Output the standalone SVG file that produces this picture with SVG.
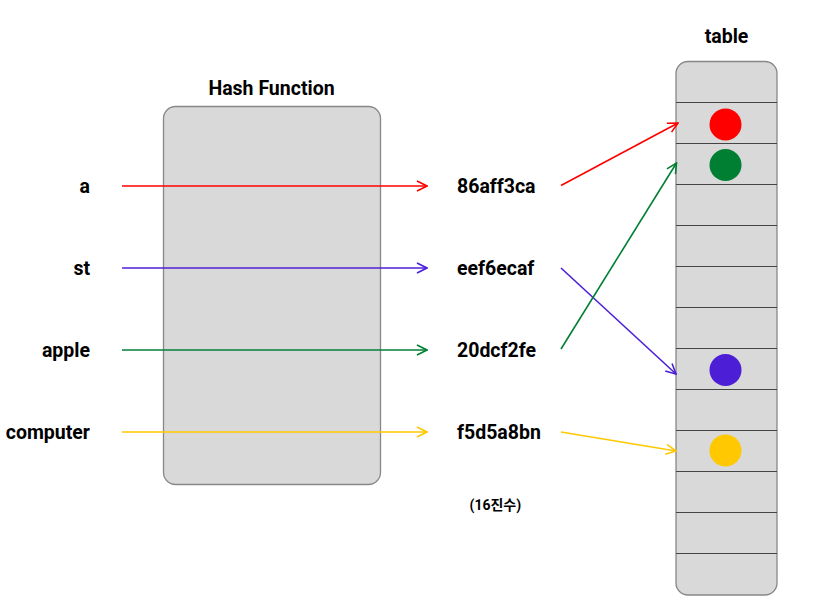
<svg xmlns="http://www.w3.org/2000/svg" width="822" height="612" viewBox="0 0 822 612">
<style>
text{font-family:Roboto,"Noto Sans CJK KR",sans-serif;font-weight:bold;fill:#000}
.lbl{font-size:19.5px}
.key{text-anchor:end}
.box{fill:#d9d9d9;stroke:#888;stroke-width:1.3}
.row{stroke:#444;stroke-width:1}
.c{fill:none;stroke-width:1.6}
</style>
<defs>
<marker id="mr" viewBox="0 0 12 12" refX="11" refY="6" markerWidth="12" markerHeight="12" markerUnits="userSpaceOnUse" orient="auto"><path d="M1,1 L11,6 L1,11" fill="none" stroke="#ff0000" stroke-width="1.6"/></marker>
<marker id="mp" viewBox="0 0 12 12" refX="11" refY="6" markerWidth="12" markerHeight="12" markerUnits="userSpaceOnUse" orient="auto"><path d="M1,1 L11,6 L1,11" fill="none" stroke="#4c1fd6" stroke-width="1.6"/></marker>
<marker id="mg" viewBox="0 0 12 12" refX="11" refY="6" markerWidth="12" markerHeight="12" markerUnits="userSpaceOnUse" orient="auto"><path d="M1,1 L11,6 L1,11" fill="none" stroke="#007f33" stroke-width="1.6"/></marker>
<marker id="my" viewBox="0 0 12 12" refX="11" refY="6" markerWidth="12" markerHeight="12" markerUnits="userSpaceOnUse" orient="auto"><path d="M1,1 L11,6 L1,11" fill="none" stroke="#ffc800" stroke-width="1.6"/></marker>
</defs>
<g id="hash">
<rect class="box" x="163.5" y="106.5" width="217" height="378" rx="12"/>
<text class="lbl" x="271.5" y="95" text-anchor="middle">Hash Function</text>
</g>
<g id="table">
<rect class="box" x="676" y="61.5" width="101" height="533.5" rx="12"/>
<g class="row">
<line x1="676" y1="102.5" x2="777" y2="102.5"/>
<line x1="676" y1="143.5" x2="777" y2="143.5"/>
<line x1="676" y1="184.5" x2="777" y2="184.5"/>
<line x1="676" y1="225.5" x2="777" y2="225.5"/>
<line x1="676" y1="266.5" x2="777" y2="266.5"/>
<line x1="676" y1="307.5" x2="777" y2="307.5"/>
<line x1="676" y1="348.5" x2="777" y2="348.5"/>
<line x1="676" y1="389.5" x2="777" y2="389.5"/>
<line x1="676" y1="430.5" x2="777" y2="430.5"/>
<line x1="676" y1="471.5" x2="777" y2="471.5"/>
<line x1="676" y1="512.5" x2="777" y2="512.5"/>
<line x1="676" y1="553.5" x2="777" y2="553.5"/>
</g>
<text class="lbl" x="726.5" y="43" text-anchor="middle">table</text>
<circle cx="725.5" cy="124.5" r="16" fill="#ff0000"/>
<circle cx="725.5" cy="165" r="16" fill="#007f33"/>
<circle cx="725.5" cy="370" r="16" fill="#4c1fd6"/>
<circle cx="725.5" cy="450.5" r="16" fill="#ffc800"/>
</g>
<g id="keys">
<text class="lbl key" x="90" y="192.5">a</text>
<text class="lbl key" x="90" y="274.5">st</text>
<text class="lbl key" x="90" y="356.5">apple</text>
<text class="lbl key" x="90" y="438.5">computer</text>
</g>
<g id="hashes">
<text class="lbl" x="457" y="192.5">86aff3ca</text>
<text class="lbl" x="457" y="274.5">eef6ecaf</text>
<text class="lbl" x="457" y="356.5">20dcf2fe</text>
<text class="lbl" x="457" y="438.5">f5d5a8bn</text>
<text x="469.5" y="510" font-size="14">(16진수)</text>
</g>
<g id="connectors">
<line class="c" x1="122" y1="186" x2="427" y2="186" stroke="#ff0000" marker-end="url(#mr)"/>
<line class="c" x1="122" y1="268" x2="427" y2="268" stroke="#4c1fd6" marker-end="url(#mp)"/>
<line class="c" x1="122" y1="350" x2="427" y2="350" stroke="#007f33" marker-end="url(#mg)"/>
<line class="c" x1="122" y1="432" x2="427" y2="432" stroke="#ffc800" marker-end="url(#my)"/>
<line class="c" x1="561" y1="185.5" x2="678" y2="123" stroke="#ff0000" marker-end="url(#mr)"/>
<line class="c" x1="561" y1="268" x2="676" y2="374" stroke="#4c1fd6" marker-end="url(#mp)"/>
<line class="c" x1="561" y1="349" x2="676.5" y2="163" stroke="#007f33" marker-end="url(#mg)"/>
<line class="c" x1="561" y1="432" x2="676" y2="451" stroke="#ffc800" marker-end="url(#my)"/>
</g>
</svg>
